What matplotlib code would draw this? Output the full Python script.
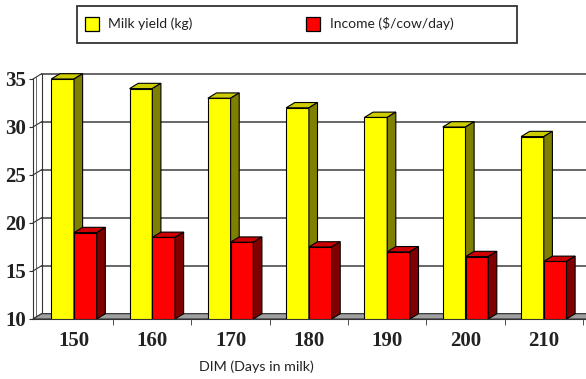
import matplotlib
matplotlib.use("Agg")
import matplotlib.pyplot as plt
from matplotlib.patches import Polygon, Rectangle
import numpy as np

categories = ["150", "160", "170", "180", "190", "200", "210"]
milk_yield = [35, 34, 33, 32, 31, 30, 29]
income = [19, 18.5, 18, 17.5, 17, 16.5, 16]
yticks = [10, 15, 20, 25, 30, 35]

W, H = 586, 379
fig = plt.figure(figsize=(W / 100, H / 100), dpi=100)

# axes placement in pixels
left_px, floor_px = 33, 319
px_per_x, px_per_y = 78.3, 9.6
ymin, ymax = 10, 36
top_px = floor_px - (ymax - ymin) * px_per_y
ax = fig.add_axes([left_px / W, (H - floor_px) / H, (W - left_px) / W, (floor_px - top_px) / H])
xmin = -(74 - left_px) / px_per_x
xmax = xmin + (W - left_px) / px_per_x
ax.set_xlim(xmin, xmax)
ax.set_ylim(ymin, ymax)

dx, dy = 0.11, 0.55  # 3D depth offsets (data units)
w = 0.29

# floor
ax.add_patch(Polygon([(xmin, ymin), (xmax + 1, ymin), (xmax + 1 + dx, ymin + dy), (xmin + dx, ymin + dy)],
                     closed=True, facecolor="#A0A0A0", edgecolor="#333333", lw=0.8, zorder=1))

# back-wall gridlines and left wall
for v in yticks:
    ax.plot([xmin + dx, xmax + 1], [v + dy, v + dy], color="#5a5a5a", lw=1.3, zorder=0.5)
    ax.plot([xmin, xmin + dx], [v, v + dy], color="#333333", lw=0.8, zorder=0.6, clip_on=False)
ax.plot([xmin + dx, xmin + dx], [ymin + dy, 35 + dy], color="#333333", lw=0.8, zorder=0.6)
ax.plot([xmin + 0.04, xmin + 0.04], [ymin + 0.2, 35 + 0.2], color="#555555", lw=0.6, zorder=0.6)

def bar3d(x0, v, face, top, side):
    x1 = x0 + w
    ax.add_patch(Rectangle((x0, ymin), w, v - ymin, facecolor=face, edgecolor="black", lw=0.8, zorder=3))
    ax.add_patch(Polygon([(x0, v), (x1, v), (x1 + dx, v + dy), (x0 + dx, v + dy)], closed=True,
                         facecolor=top, edgecolor="black", lw=0.8, zorder=3))
    ax.add_patch(Polygon([(x1, ymin), (x1 + dx, ymin + dy), (x1 + dx, v + dy), (x1, v)], closed=True,
                         facecolor=side, edgecolor="black", lw=0.8, zorder=3))

x = np.arange(len(categories))
for i in x:
    bar3d(i - w, milk_yield[i], "#FFFF00", "#CCCC00", "#808000")
    bar3d(i, income[i], "#FF0000", "#CC0000", "#800000")

for s in ["top", "right"]:
    ax.spines[s].set_visible(False)
ax.spines["left"].set_bounds(10, 35)
ax.spines["left"].set_color("#333333")
ax.spines["bottom"].set_color("#333333")

ax.set_yticks(yticks)
ax.set_yticklabels([str(v) for v in yticks], fontfamily="Liberation Serif", fontweight="bold", fontsize=15)
ax.tick_params(axis="y", length=3, pad=2, direction="out", colors="#333333", labelcolor="#222222")

ax.set_xticks(x)
ax.set_xticklabels(categories, fontfamily="Liberation Serif", fontweight="bold", fontsize=15, color="#222222")
ax.tick_params(axis="x", which="major", length=0, pad=9)
ax.set_xticks(np.arange(0.5, 7, 1), minor=True)
ax.tick_params(axis="x", which="minor", length=4, direction="out", colors="#333333")

fig.text(256 / W, 1 - 367 / H, "DIM (Days in milk)", ha="center", va="center", fontsize=10.3,
         fontfamily="Lato", color="#222222")

# legend box
fig.patches.append(Rectangle((77 / W, 1 - 43 / H), (517 - 77) / W, (43 - 6) / H, transform=fig.transFigure,
                             facecolor="white", edgecolor="#333333", lw=1.3))
fig.patches.append(Rectangle((85 / W, 1 - 31 / H), 14 / W, 14 / H, transform=fig.transFigure,
                             facecolor="#FFFF00", edgecolor="black", lw=0.9))
fig.patches.append(Rectangle((306 / W, 1 - 31 / H), 14 / W, 14 / H, transform=fig.transFigure,
                             facecolor="#FF0000", edgecolor="black", lw=0.9))
fig.text(108 / W, 1 - 24 / H, "Milk yield (kg)", ha="left", va="center", fontsize=10, fontfamily="Lato", color="#222222")
fig.text(330 / W, 1 - 24 / H, "Income ($/cow/day)", ha="left", va="center", fontsize=10, fontfamily="Lato", color="#222222")

fig.savefig("out.png", dpi=100)
